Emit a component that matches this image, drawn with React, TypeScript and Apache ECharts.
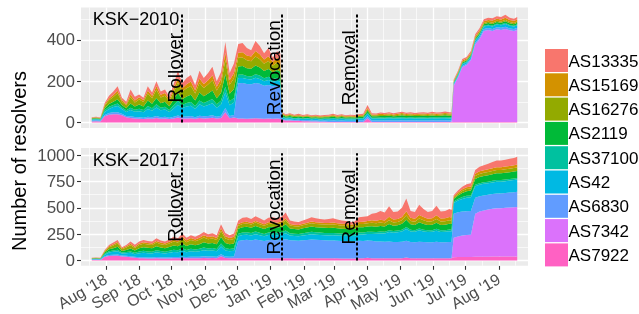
import React, { useEffect, useRef } from 'react';
import * as echarts from 'echarts';

// sample dates (every ~4 days)
const dates = [
  '2018-07-19', '2018-07-23', '2018-07-27', '2018-07-31', '2018-08-04', '2018-08-08', '2018-08-12', '2018-08-16', '2018-08-20', '2018-08-24', '2018-08-28',
  '2018-09-01', '2018-09-05', '2018-09-09', '2018-09-13', '2018-09-17', '2018-09-21', '2018-09-25', '2018-09-29', '2018-10-03', '2018-10-07', '2018-10-11',
  '2018-10-15', '2018-10-19', '2018-10-23', '2018-10-27', '2018-10-31', '2018-11-04', '2018-11-08', '2018-11-12', '2018-11-16', '2018-11-20', '2018-11-24', '2018-11-28',
  '2018-12-02', '2018-12-06', '2018-12-10', '2018-12-14', '2018-12-18', '2018-12-22', '2018-12-26', '2018-12-30', '2019-01-03', '2019-01-07', '2019-01-10',
  '2019-01-12', '2019-01-15', '2019-01-19', '2019-01-23', '2019-01-27', '2019-01-31', '2019-02-04', '2019-02-08', '2019-02-12', '2019-02-16', '2019-02-20',
  '2019-02-24', '2019-02-28', '2019-03-04', '2019-03-08', '2019-03-12', '2019-03-16', '2019-03-20', '2019-03-24', '2019-03-28', '2019-04-01', '2019-04-05',
  '2019-04-09', '2019-04-13', '2019-04-17', '2019-04-21', '2019-04-25', '2019-04-29', '2019-05-03', '2019-05-07', '2019-05-11', '2019-05-15', '2019-05-19',
  '2019-05-23', '2019-05-27', '2019-05-31', '2019-06-04', '2019-06-08', '2019-06-12', '2019-06-16', '2019-06-18',
  '2019-06-20', '2019-06-24', '2019-06-28', '2019-07-02', '2019-07-06', '2019-07-10', '2019-07-14', '2019-07-18', '2019-07-22', '2019-07-26', '2019-07-30',
  '2019-08-03', '2019-08-07', '2019-08-11', '2019-08-15', '2019-08-18',
];

// ---------- KSK-2010 panel ----------
const k10_AS7922 = [
  5, 6, 5, 30, 38, 40, 40, 35, 25, 22, 20,
  18, 17, 20, 18, 22, 18, 20, 17, 20, 24, 20,
  20, 21, 18, 22, 20, 21, 23, 19, 22, 50, 21, 24,
  20, 19, 18, 20, 21, 19, 18, 20, 18, 19, 18,
  12, 10, 10, 8, 8, 6, 6, 5, 5, 4, 4,
  3, 3, 3, 3, 3, 3, 3, 3, 3, 20, 3,
  3, 3, 3, 3, 3, 3, 3, 3, 3, 3, 3,
  3, 3, 3, 3, 3, 3, 3, 4,
  3, 3, 3, 3, 3, 3, 3, 3, 3, 3, 3,
  3, 3, 3, 3, 3,
];
const k10_AS7342 = [
  0, 0, 0, 0, 0, 0, 0, 0, 0, 0, 0,
  0, 0, 0, 0, 0, 0, 0, 0, 0, 0, 0,
  0, 0, 0, 0, 0, 0, 0, 0, 0, 0, 0, 0,
  0, 0, 0, 0, 0, 0, 0, 0, 0, 0, 0,
  0, 0, 0, 0, 0, 0, 0, 0, 0, 0, 0,
  0, 0, 0, 0, 0, 0, 0, 0, 0, 0, 0,
  0, 0, 0, 0, 0, 0, 0, 0, 0, 0, 0,
  0, 0, 0, 0, 0, 0, 0, 0,
  175, 215, 265, 275, 300, 375, 400, 440, 445, 440, 448,
  445, 450, 443, 440, 445,
];
const k10_AS6830 = [
  5, 5, 5, 6, 8, 10, 10, 8, 6, 8, 7,
  7, 6, 8, 7, 9, 7, 8, 6, 8, 10, 8,
  9, 10, 8, 11, 10, 11, 12, 9, 11, 20, 11, 13,
  170, 172, 168, 165, 170, 168, 160, 162, 158, 160, 158,
  5, 4, 5, 4, 5, 5, 6, 5, 6, 5, 6,
  6, 7, 6, 7, 6, 6, 6, 7, 7, 10, 7,
  7, 7, 7, 8, 7, 7, 8, 7, 8, 7, 7,
  7, 7, 8, 7, 8, 8, 7, 7,
  5, 5, 6, 6, 7, 8, 8, 9, 9, 9, 10,
  10, 10, 9, 9, 10,
];
const k10_AS42 = [
  4, 5, 4, 15, 20, 25, 30, 22, 20, 30, 25,
  30, 27, 38, 32, 42, 34, 35, 28, 40, 52, 42,
  48, 50, 40, 55, 47, 53, 58, 44, 54, 75, 52, 60,
  25, 25, 24, 23, 26, 24, 22, 24, 21, 23, 22,
  8, 6, 7, 6, 7, 6, 7, 6, 7, 6, 7,
  7, 8, 7, 8, 7, 7, 7, 8, 8, 12, 9,
  9, 10, 9, 10, 9, 10, 10, 9, 10, 9, 10,
  10, 9, 10, 10, 10, 10, 10, 10,
  6, 7, 8, 8, 9, 10, 11, 12, 12, 13, 13,
  13, 14, 13, 12, 13,
];
const k10_AS37100 = [
  2, 2, 2, 8, 10, 10, 12, 8, 8, 12, 10,
  12, 10, 14, 12, 16, 12, 13, 10, 15, 20, 15,
  17, 18, 14, 19, 17, 19, 21, 16, 19, 28, 19, 22,
  16, 16, 15, 15, 17, 16, 14, 15, 13, 15, 14,
  4, 3, 4, 3, 3, 3, 3, 3, 3, 3, 3,
  3, 4, 3, 3, 3, 3, 3, 3, 4, 5, 4,
  4, 4, 4, 4, 4, 4, 5, 4, 4, 4, 4,
  4, 4, 4, 4, 4, 5, 4, 4,
  2, 2, 3, 3, 3, 3, 4, 4, 4, 4, 4,
  4, 4, 4, 4, 4,
];
const k10_AS2119 = [
  3, 3, 2, 10, 14, 16, 20, 12, 10, 20, 15,
  20, 18, 26, 22, 30, 22, 24, 18, 28, 38, 28,
  32, 35, 27, 38, 33, 36, 41, 30, 37, 60, 36, 43,
  40, 41, 38, 37, 42, 39, 35, 38, 33, 37, 35,
  7, 6, 6, 6, 6, 5, 6, 5, 5, 5, 5,
  6, 6, 5, 6, 5, 6, 5, 6, 6, 10, 7,
  7, 8, 8, 8, 7, 8, 9, 8, 8, 8, 8,
  9, 8, 9, 8, 8, 9, 9, 8,
  4, 4, 5, 5, 5, 6, 7, 7, 8, 8, 8,
  8, 9, 8, 8, 8,
];
const k10_AS16276 = [
  3, 3, 3, 12, 18, 22, 30, 16, 14, 30, 20,
  24, 21, 34, 27, 40, 28, 30, 23, 36, 50, 37,
  40, 43, 33, 46, 40, 44, 50, 37, 45, 70, 44, 52,
  42, 42, 38, 37, 44, 40, 35, 39, 32, 37, 35,
  5, 4, 4, 4, 4, 4, 4, 4, 4, 4, 4,
  4, 5, 4, 4, 4, 4, 4, 4, 5, 6, 5,
  5, 5, 5, 6, 5, 5, 6, 5, 6, 5, 6,
  6, 5, 6, 5, 6, 6, 6, 6,
  3, 3, 4, 4, 4, 5, 5, 6, 6, 6, 6,
  6, 6, 6, 6, 6,
];
const k10_AS15169 = [
  1, 2, 1, 6, 8, 10, 12, 8, 7, 14, 10,
  11, 10, 15, 12, 17, 13, 13, 11, 16, 22, 16,
  19, 21, 16, 22, 19, 21, 24, 18, 22, 35, 22, 26,
  25, 25, 23, 22, 26, 24, 21, 23, 19, 22, 21,
  4, 3, 4, 3, 4, 3, 3, 3, 3, 3, 3,
  4, 4, 3, 4, 3, 4, 3, 4, 4, 7, 4,
  4, 5, 4, 5, 4, 5, 5, 5, 5, 4, 5,
  5, 5, 5, 5, 5, 5, 5, 5,
  4, 5, 6, 6, 7, 8, 8, 9, 9, 10, 10,
  10, 11, 10, 10, 10,
];
const k10_AS13335 = [
  2, 2, 2, 8, 14, 17, 21, 11, 10, 24, 18,
  13, 11, 20, 15, 24, 16, 17, 12, 22, 34, 24,
  30, 32, 24, 37, 29, 35, 41, 27, 35, 52, 35, 45,
  42, 45, 36, 31, 49, 40, 30, 39, 21, 32, 32,
  5, 4, 5, 4, 5, 4, 5, 4, 5, 4, 5,
  5, 5, 5, 5, 4, 5, 5, 5, 5, 15, 6,
  5, 6, 6, 6, 6, 6, 6, 6, 6, 6, 6,
  6, 6, 7, 6, 6, 7, 6, 6,
  5, 6, 7, 7, 8, 9, 10, 10, 11, 11, 12,
  12, 14, 11, 10, 12,
];

// ---------- KSK-2017 panel ----------
const k17_AS7922 = [
  4, 5, 4, 32, 42, 45, 45, 38, 35, 30, 25,
  20, 20, 19, 18, 20, 19, 18, 19, 21, 20, 22,
  20, 22, 21, 22, 24, 22, 23, 21, 40, 23, 21, 22,
  20, 21, 22, 20, 22, 21, 19, 21, 22, 20, 21,
  21, 22, 20, 19, 19, 20, 20, 21, 20, 20, 20,
  20, 20, 20, 19, 19, 19, 19, 22, 22, 25, 22,
  21, 21, 20, 22, 20, 21, 22, 28, 21, 20, 22,
  21, 20, 20, 22, 20, 20, 21, 21,
  30, 32, 32, 33, 33, 35, 35, 36, 36, 37, 37,
  37, 38, 38, 38, 38,
];
const k17_AS7342 = [
  0, 0, 0, 0, 0, 0, 0, 0, 0, 0, 0,
  0, 0, 0, 0, 0, 0, 0, 0, 0, 0, 0,
  0, 0, 0, 0, 0, 0, 0, 0, 0, 0, 0, 0,
  0, 0, 0, 0, 0, 0, 0, 0, 0, 0, 0,
  0, 0, 0, 0, 0, 0, 0, 0, 0, 0, 0,
  0, 0, 0, 0, 0, 0, 0, 0, 0, 0, 0,
  0, 0, 0, 0, 0, 0, 0, 0, 0, 0, 0,
  0, 0, 0, 0, 0, 0, 0, 0,
  185, 195, 205, 210, 212, 410, 430, 440, 448, 455, 460,
  460, 462, 465, 468, 470,
];
const k17_AS6830 = [
  6, 6, 6, 8, 10, 10, 11, 8, 9, 10, 9,
  10, 11, 10, 10, 12, 11, 10, 11, 12, 12, 14,
  13, 14, 13, 14, 16, 15, 15, 14, 20, 15, 14, 15,
  165, 172, 175, 170, 178, 172, 165, 172, 175, 172, 175,
  175, 180, 172, 170, 168, 172, 175, 178, 176, 175, 172,
  170, 170, 168, 166, 164, 162, 162, 165, 164, 165, 165,
  160, 158, 157, 158, 155, 155, 156, 160, 155, 154, 156,
  155, 154, 154, 156, 154, 154, 155, 155,
  230, 232, 228, 225, 225, 150, 145, 142, 140, 140, 140,
  140, 141, 142, 143, 145,
];
const k17_AS42 = [
  4, 4, 4, 15, 24, 28, 32, 20, 25, 32, 26,
  38, 42, 40, 38, 45, 41, 38, 43, 48, 45, 55,
  46, 52, 48, 52, 58, 54, 56, 52, 72, 56, 52, 55,
  45, 48, 48, 47, 50, 47, 45, 48, 48, 47, 48,
  50, 56, 45, 44, 43, 45, 47, 49, 48, 47, 47,
  48, 50, 50, 50, 52, 52, 53, 58, 60, 62, 65,
  72, 78, 78, 90, 88, 92, 98, 110, 100, 98, 108,
  100, 96, 98, 105, 97, 98, 102, 100,
  100, 110, 120, 128, 130, 110, 110, 110, 110, 110, 112,
  112, 113, 114, 115, 116,
];
const k17_AS37100 = [
  2, 2, 2, 8, 12, 12, 14, 9, 11, 14, 12,
  17, 18, 17, 17, 20, 18, 17, 19, 21, 20, 24,
  20, 22, 21, 22, 25, 23, 24, 22, 30, 24, 22, 23,
  23, 24, 24, 24, 25, 24, 23, 24, 24, 24, 24,
  25, 27, 22, 21, 21, 22, 23, 24, 23, 23, 23,
  22, 22, 21, 20, 20, 19, 19, 20, 20, 20, 20,
  18, 18, 17, 18, 16, 16, 17, 20, 16, 16, 18,
  17, 16, 16, 18, 16, 16, 17, 17,
  15, 16, 17, 18, 18, 15, 15, 15, 15, 15, 15,
  15, 15, 15, 15, 15,
];
const k17_AS2119 = [
  3, 3, 3, 12, 18, 22, 28, 15, 20, 28, 22,
  32, 35, 34, 32, 38, 34, 32, 36, 41, 38, 47,
  39, 44, 41, 45, 50, 46, 47, 44, 62, 47, 44, 47,
  48, 50, 51, 49, 52, 50, 47, 50, 51, 50, 51,
  52, 60, 45, 44, 44, 46, 48, 50, 49, 48, 48,
  48, 49, 47, 46, 45, 44, 45, 50, 50, 50, 53,
  50, 52, 50, 58, 50, 50, 55, 68, 52, 50, 58,
  54, 50, 52, 58, 51, 52, 54, 53,
  25, 32, 40, 45, 46, 55, 58, 60, 62, 63, 64,
  64, 65, 65, 66, 67,
];
const k17_AS16276 = [
  3, 3, 3, 12, 20, 25, 32, 17, 23, 30, 25,
  30, 33, 32, 31, 35, 32, 31, 34, 38, 35, 44,
  36, 41, 38, 41, 46, 42, 44, 41, 56, 44, 41, 43,
  30, 32, 32, 31, 33, 31, 30, 32, 32, 31, 32,
  32, 37, 29, 28, 28, 29, 30, 32, 31, 31, 31,
  31, 31, 30, 29, 29, 28, 28, 31, 31, 31, 33,
  32, 33, 32, 36, 32, 32, 34, 42, 32, 31, 36,
  34, 32, 33, 36, 32, 33, 34, 33,
  10, 15, 18, 20, 21, 28, 30, 30, 31, 31, 32,
  32, 32, 33, 33, 33,
];
const k17_AS15169 = [
  1, 2, 1, 6, 10, 12, 14, 8, 11, 15, 12,
  14, 15, 14, 14, 16, 15, 14, 16, 18, 16, 20,
  17, 19, 18, 19, 21, 20, 20, 19, 25, 20, 19, 20,
  15, 16, 16, 15, 16, 15, 14, 16, 16, 15, 16,
  17, 20, 14, 14, 14, 15, 16, 17, 16, 16, 16,
  18, 19, 18, 18, 18, 17, 18, 20, 21, 21, 23,
  25, 27, 26, 33, 28, 28, 31, 40, 29, 28, 34,
  31, 28, 29, 34, 29, 29, 31, 30,
  10, 14, 17, 18, 18, 22, 24, 25, 25, 26, 26,
  26, 26, 27, 27, 28,
];
const k17_AS13335 = [
  2, 2, 2, 7, 12, 16, 18, 10, 14, 20, 19,
  18, 20, 19, 19, 24, 20, 19, 22, 26, 24, 30,
  24, 26, 25, 30, 30, 28, 29, 27, 40, 31, 27, 30,
  34, 42, 42, 39, 44, 40, 37, 42, 42, 41, 43,
  48, 53, 33, 30, 28, 31, 36, 39, 37, 35, 33,
  38, 39, 36, 32, 28, 24, 26, 44, 47, 46, 64,
  72, 83, 75, 100, 71, 71, 87, 122, 65, 63, 98,
  78, 64, 68, 91, 66, 68, 76, 71,
  15, 19, 23, 28, 32, 35, 43, 47, 53, 58, 64,
  64, 66, 67, 70, 73,
];

// stacking order: bottom -> top
const seriesNames = ['AS7922', 'AS7342', 'AS6830', 'AS42', 'AS37100', 'AS2119', 'AS16276', 'AS15169', 'AS13335'];
const seriesColors = ['#FF61C3', '#DB72FB', '#619CFF', '#00B9E3', '#00C19F', '#00BA38', '#93AA00', '#D39200', '#F8766D'];
const legendOrder = ['AS13335', 'AS15169', 'AS16276', 'AS2119', 'AS37100', 'AS42', 'AS6830', 'AS7342', 'AS7922'];
const ksk2010 = [k10_AS7922, k10_AS7342, k10_AS6830, k10_AS42, k10_AS37100, k10_AS2119, k10_AS16276, k10_AS15169, k10_AS13335];
const ksk2017 = [k17_AS7922, k17_AS7342, k17_AS6830, k17_AS42, k17_AS37100, k17_AS2119, k17_AS16276, k17_AS15169, k17_AS13335];

const panelLabels = ['KSK−2010', 'KSK−2017'];
const panelLabelY = [499, 958];
const eventNames = ['Rollover', 'Revocation', 'Removal'];
const eventDates = ['2018-10-11', '2019-01-11', '2019-03-22'];
const eventLineTop = [530, 1018];
const eventLabelY = [265, 509];

const yMin = [-26.5, -51];
const yMax = [556.5, 1069];
const yMajor = [[0, 200, 400], [0, 250, 500, 750, 1000]];
const yMinor = [[100, 300, 500], [125, 375, 625, 875]];
const xMin = '2018-07-09';
const xMax = '2019-08-28';
const monthTicks = [
  '2018-08-01', '2018-09-01', '2018-10-01', '2018-11-01', '2018-12-01', '2019-01-01', '2019-02-01',
  '2019-03-01', '2019-04-01', '2019-05-01', '2019-06-01', '2019-07-01', '2019-08-01',
];
const monthMinor = [
  '2018-07-16 12:00', '2018-08-16 12:00', '2018-09-16 00:00', '2018-10-16 12:00', '2018-11-16 00:00', '2018-12-16 12:00',
  '2019-01-16 12:00', '2019-02-15 00:00', '2019-03-16 12:00', '2019-04-16 00:00', '2019-05-16 12:00', '2019-06-16 00:00',
  '2019-07-16 12:00', '2019-08-16 12:00',
];
const monthNames = ['Jan', 'Feb', 'Mar', 'Apr', 'May', 'Jun', 'Jul', 'Aug', 'Sep', 'Oct', 'Nov', 'Dec'];

const FONT = 'Liberation Sans, Arial, Helvetica, sans-serif';

function toTime(d: string): number {
  const [datePart, timePart] = d.split(' ');
  const [y, m, day] = datePart.split('-').map(Number);
  let hh = 0;
  let mm = 0;
  if (timePart) {
    const t = timePart.split(':').map(Number);
    hh = t[0];
    mm = t[1];
  }
  return Date.UTC(y, m - 1, day, hh, mm);
}

function buildOption() {
  const P = toTime;
  const grids = [
    { left: 81, top: 7.5, width: 447, height: 120.5 },
    { left: 81, top: 148, width: 447, height: 121 },
  ];
  const major = { color: '#FFFFFF', width: 1.3, type: 'solid' };
  const minor = { color: '#FFFFFF', width: 0.65, type: 'solid' };
  const series: any[] = [];
  [ksk2010, ksk2017].forEach((panel, p) => {
    series.push({
      name: '_grid' + p, type: 'line', xAxisIndex: p, yAxisIndex: p, data: [], silent: true, z: 1,
      markLine: {
        silent: true, symbol: 'none', z: 1, animation: false, label: { show: false },
        emphasis: { disabled: true },
        data: [
          ...yMajor[p].map((v) => ({ yAxis: v, lineStyle: major })),
          ...yMinor[p].map((v) => ({ yAxis: v, lineStyle: minor })),
          ...monthTicks.map((d) => ({ xAxis: P(d), lineStyle: major })),
          ...monthMinor.map((d) => ({ xAxis: P(d), lineStyle: minor })),
        ],
      },
    });
    panel.forEach((vals, i) => {
      series.push({
        name: seriesNames[i], type: 'line', xAxisIndex: p, yAxisIndex: p, stack: 'panel' + p,
        symbol: 'none', showSymbol: false, silent: true, z: 3,
        lineStyle: { width: 0 },
        itemStyle: { color: seriesColors[i] },
        areaStyle: { color: seriesColors[i], opacity: 1 },
        emphasis: { disabled: true },
        data: dates.map((d, j) => [P(d), vals[j]]),
      });
    });
    series.push({
      name: '_events' + p, type: 'line', xAxisIndex: p, yAxisIndex: p, data: [], silent: true, z: 5,
      markLine: {
        silent: true, symbol: 'none', z: 5, animation: false, label: { show: false },
        emphasis: { disabled: true },
        lineStyle: { color: '#000000', width: 2, type: [3, 2] },
        data: eventDates.map((d) => [{ coord: [P(d), 0] }, { coord: [P(d), eventLineTop[p]] }]),
      },
    });
  });

  const tickStyle = { color: '#333333', width: 1.1 };
  const fmt = (v: number) => {
    const d = new Date(v);
    return monthNames[d.getUTCMonth()] + " '" + String(d.getUTCFullYear()).slice(2);
  };

  const dataXAxis = [0, 1].map((p) => ({
    type: 'time', gridIndex: p, min: P(xMin), max: P(xMax), position: 'bottom',
    axisLine: { show: false }, splitLine: { show: false }, minorSplitLine: { show: false },
    axisTick: { show: false }, axisLabel: { show: false },
  }));
  const labelXAxis = {
    type: 'value', gridIndex: 1, min: P(xMin), max: P(xMax), position: 'bottom', offset: 0,
    axisLine: { show: false }, splitLine: { show: false },
    axisTick: { show: true, length: 4, lineStyle: tickStyle, customValues: monthTicks.map(P) },
    axisLabel: {
      show: true, customValues: monthTicks.map(P), formatter: fmt, rotate: 30, margin: 12,
      color: '#4D4D4D', fontSize: 16, fontFamily: FONT, hideOverlap: false,
    },
  };

  const legendGraphics: any[] = [];
  legendOrder.forEach((name, i) => {
    const color = seriesColors[seriesNames.indexOf(name)];
    const top = 49 + i * 24.3;
    legendGraphics.push({ type: 'rect', silent: true, shape: { x: 545, y: top, width: 23, height: 23 }, style: { fill: color } });
    legendGraphics.push({
      type: 'text', silent: true, x: 568.5, y: top + 12,
      style: { text: name, fontSize: 17, fontFamily: FONT, fill: '#000', verticalAlign: 'middle' },
    });
  });

  return {
    animation: false,
    textStyle: { fontFamily: FONT },
    grid: grids.map((g) => ({ ...g, show: true, backgroundColor: '#EBEBEB', borderWidth: 0, z: 0 })),
    xAxis: [...dataXAxis, labelXAxis],
    yAxis: [0, 1].map((p) => ({
      type: 'value', gridIndex: p, min: yMin[p], max: yMax[p],
      axisLine: { show: false },
      splitLine: { show: false },
      axisTick: { show: true, length: 4, lineStyle: tickStyle, customValues: yMajor[p] },
      axisLabel: {
        show: true, customValues: yMajor[p], margin: 6, color: '#4D4D4D', fontSize: 17, fontFamily: FONT,
        formatter: (v: number) => String(v),
      },
    })),
    graphic: [
      {
        type: 'text', x: 19, y: 161, rotation: Math.PI / 2, silent: true,
        style: {
          text: 'Number of resolvers', fontSize: 20, fontFamily: FONT, fill: '#000',
          align: 'center', verticalAlign: 'middle',
        },
      },
      ...legendGraphics,
    ],
    series,
  };
}

export default function App() {
  const ref = useRef<HTMLDivElement>(null);
  useEffect(() => {
    if (!ref.current) return;
    const chart = echarts.init(ref.current, undefined, { renderer: 'svg' });
    const option: any = buildOption();
    chart.setOption(option);
    // annotation texts positioned through the axes' scales
    const texts: any[] = [];
    [0, 1].forEach((p) => {
      const finder = { xAxisIndex: p, yAxisIndex: p };
      const kp = chart.convertToPixel(finder as any, [toTime(dates[0]), panelLabelY[p]]) as number[];
      texts.push({
        type: 'text', silent: true, z: 10, x: kp[0] + 1, y: kp[1],
        style: { text: panelLabels[p], fontSize: 18, fontFamily: FONT, fill: '#000', align: 'left', verticalAlign: 'middle' },
      });
      eventDates.forEach((d, k) => {
        const ep = chart.convertToPixel(finder as any, [toTime(d), eventLabelY[p]]) as number[];
        texts.push({
          type: 'text', silent: true, z: 10, x: ep[0] - 8, y: ep[1], rotation: Math.PI / 2,
          style: { text: eventNames[k], fontSize: 19, fontFamily: FONT, fill: '#000', align: 'center', verticalAlign: 'middle' },
        });
      });
    });
    chart.setOption({ graphic: [...option.graphic, ...texts] });
    return () => chart.dispose();
  }, []);
  return <div ref={ref} style={{ position: 'fixed', left: 0, top: 0, width: 639, height: 314 }} />;
}
